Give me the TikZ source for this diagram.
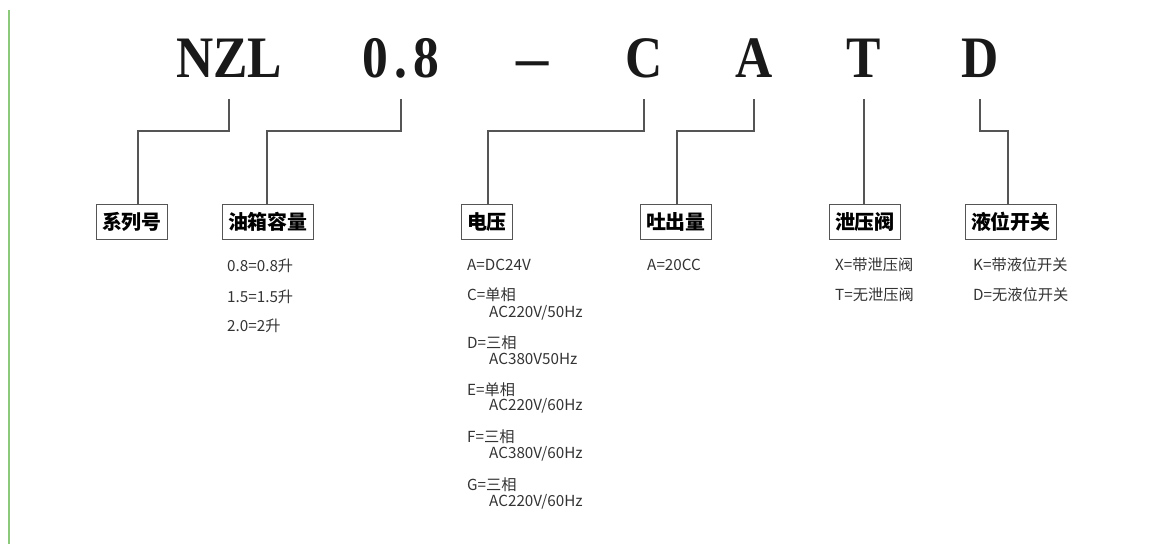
\documentclass[tikz,border=0pt]{standalone}
\usepackage{fontspec}
\newfontfamily\hdfont{Liberation Serif}
\newfontfamily\cjk{Noto Sans CJK SC}
\usepackage{tikz}
\usetikzlibrary{positioning,calc}
\definecolor{lnc}{HTML}{555555}
\definecolor{txc}{HTML}{333333}
\definecolor{grn}{HTML}{8CC97A}
\newcommand{\tall}[1]{\scalebox{1}[1.14]{#1}}
\tikzset{code/.style={anchor=base,inner sep=0pt,text=black!90,font=\hdfont\bfseries\fontsize{44}{44}\selectfont},
  tag/.style={draw=lnc,line width=0.9pt,anchor=north west,minimum height=1.05cm,inner xsep=4.7pt,inner ysep=0pt,font=\cjk\bfseries\fontsize{17}{17}\selectfont},
  opt/.style={anchor=west,inner sep=0pt,text=txc,font=\cjk\fontsize{13}{13}\selectfont},
  conn/.style={draw=lnc,line width=0.9pt}}

\begin{document}
\begin{tikzpicture}[x=0.03cm,y=-0.03cm]
    \useasboundingbox (0,0) rectangle (1166,544);
    \draw [grn,line width=1.7pt] (9,10) -- (9,544);

    % model code
    \node[code] (nzl)at (229,78) {\tall{NZL}};
    \node[code] (vol)at (401,78) {\tall{0\kern5pt.\kern5pt8}};
    \node[code] (dsh)at (533,78) {\tall{\scalebox{1.25}[1]{\textendash}}};
    \node[code] (c)at (644,78) {\tall{C}};
    \node[code] (a)at (754,78) {\tall{A}};
    \node[code] (t)at (864,78) {\tall{T}};
    \node[code] (d)at (980,78) {\tall{D}};

    % tags
    \node[tag] (ser)at (96,204) {系列号};
    \node[tag] (tank)at (222,204) {油箱容量};
    \node[tag] (volt)at (461,204) {电压};
    \node[tag] (flow)at (640,204) {吐出量};
    \node[tag] (valve)at (829,204) {泄压阀};
    \node[tag] (lvl)at (965,204) {液位开关};

    \draw [conn] (nzl.base) ++(0,21) -- ++(0,32) -| ($(ser.north west)+(42,0)$);
    \draw [conn] (vol.base) ++(0,21) -- ++(0,32) -| ($(tank.north west)+(45,0)$);
    \draw [conn] (c.base) ++(0,21) -- ++(0,32) -| ($(volt.north west)+(27,0)$);
    \draw [conn] (a.base) ++(0,21) -- ++(0,32) -| ($(flow.north west)+(37,0)$);
    \draw [conn] (t.base) ++(0,21) -- ++(0,32) -| ($(valve.north west)+(35,0)$);
    \draw [conn] (d.base) ++(0,21) -- ++(0,32) -| ($(lvl.north west)+(43,0)$);

    % options
    \node[opt] (t1)at (227,266) {0.8=0.8升};
    \node[opt] (t2)at (227,297) {1.5=1.5升};
    \node[opt] (t3)at (227,326) {2.0=2升};

    \node[opt] (v1)at (467,265) {A=DC24V};
    \node[opt] (v2)at (467,295) {C=单相};
    \node[opt] (v2b)at (489,313) {AC220V/50Hz};
    \node[opt] (v3)at (467,343) {D=三相};
    \node[opt] (v3b)at (489,359) {AC380V50Hz};
    \node[opt] (v4)at (467,390) {E=单相};
    \node[opt] (v4b)at (489,406) {AC220V/60Hz};
    \node[opt] (v5)at (467,437) {F=三相};
    \node[opt] (v5b)at (489,454) {AC380V/60Hz};
    \node[opt] (v6)at (467,485) {G=三相};
    \node[opt] (v6b)at (489,502) {AC220V/60Hz};

    \node[opt] (f1)at (647,265) {A=20CC};

    \node[opt] (x1)at (835,265) {X=带泄压阀};
    \node[opt] (x2)at (835,295) {T=无泄压阀};

    \node[opt] (k1)at (973,265) {K=带液位开关};
    \node[opt] (k2)at (973,295) {D=无液位开关};
\end{tikzpicture}
\end{document}
